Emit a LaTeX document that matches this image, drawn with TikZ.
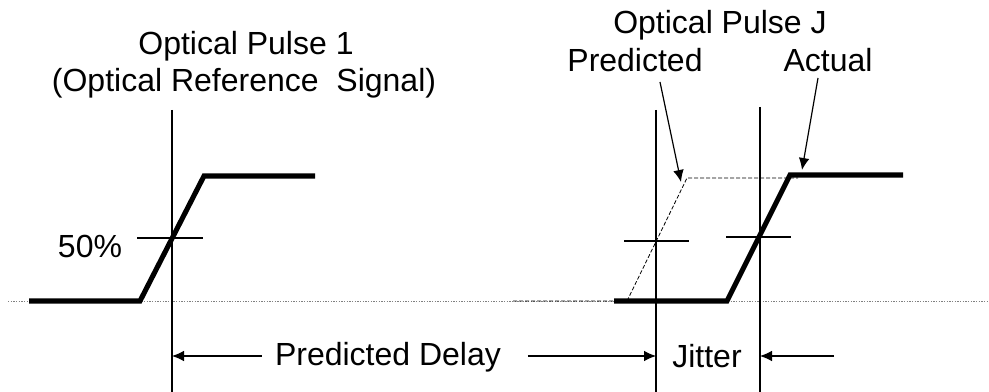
\documentclass[tikz,border=0pt]{standalone}
\usepackage{fontspec}
\setmainfont{Liberation Sans}
\usetikzlibrary{arrows.meta}
\tikzset{
  lbl/.style={font=\fontsize{24}{28}\selectfont,inner sep=0pt},
  pulse/.style={line width=3.8pt},
  ghost/.style={line width=0.6pt,dash pattern=on 3pt off 1.5pt},
  refline/.style={line width=1.6pt},
  tick/.style={line width=1.4pt},
  base/.style={gray,line width=0.6pt,dash pattern=on 1pt off 1pt},
  line/.style={-{Latex[length=9pt,width=8pt]},line width=0.9pt}
}

\begin{document}
\begin{tikzpicture}[x=0.75pt,y=-0.75pt]
\useasboundingbox (0,0) rectangle (989,392);
\draw[base] (8,301) -- (989,301);

\node[lbl] (p1name) at (246,46) {Optical Pulse 1};
\node[lbl] (p1ref) at (244,83) {(Optical Reference\ \ Signal)};
\node[lbl] (half) at (90,246) {50\%};
\node[lbl] (pjname) at (720,25) {Optical Pulse J};
\node[lbl] (predlbl) at (635,60) {Predicted};
\node[lbl] (actlbl) at (828,60) {Actual};
\node[lbl] (delay) at (388,357) {Predicted Delay};
\node[lbl] (jitter) at (707,356) {Jitter};

\draw[refline] (172,110) -- (172,392);
\draw[refline] (656,110) -- (656,392);
\draw[refline] (760,107) -- (760,392);
\coordinate (ref1) at (172,356);
\coordinate (refp) at (656,356);
\coordinate (refa) at (760,356);
\coordinate (jtail) at (834,356);

\draw[pulse] (29,301) -- (140,301) -- (204,176) -- (315,176);
\draw[tick] (137,238) -- (203,238);

\draw[ghost] (513,301) -- (627,301) -- (687,178) -- (798,178);
\draw[pulse] (614,301) -- (727,301) -- (790,175) -- (903,175);
\draw[tick] (624,241) -- (689,241);
\draw[tick] (726,237) -- (791,237);

\coordinate (predtail) at (660,82);
\coordinate (predhead) at (681,182);
\coordinate (acttail) at (818,78);
\coordinate (acthead) at (802,170);
\draw[line] (predtail) -- (predhead);
\draw[line] (acttail) -- (acthead);

\draw[line] ([xshift=-9.75pt]delay.west |- ref1) -- (ref1);
\draw[line] ([xshift=20pt]delay.east |- refp) -- (refp);
\draw[line] (jtail) -- (refa);
\end{tikzpicture}
\end{document}
